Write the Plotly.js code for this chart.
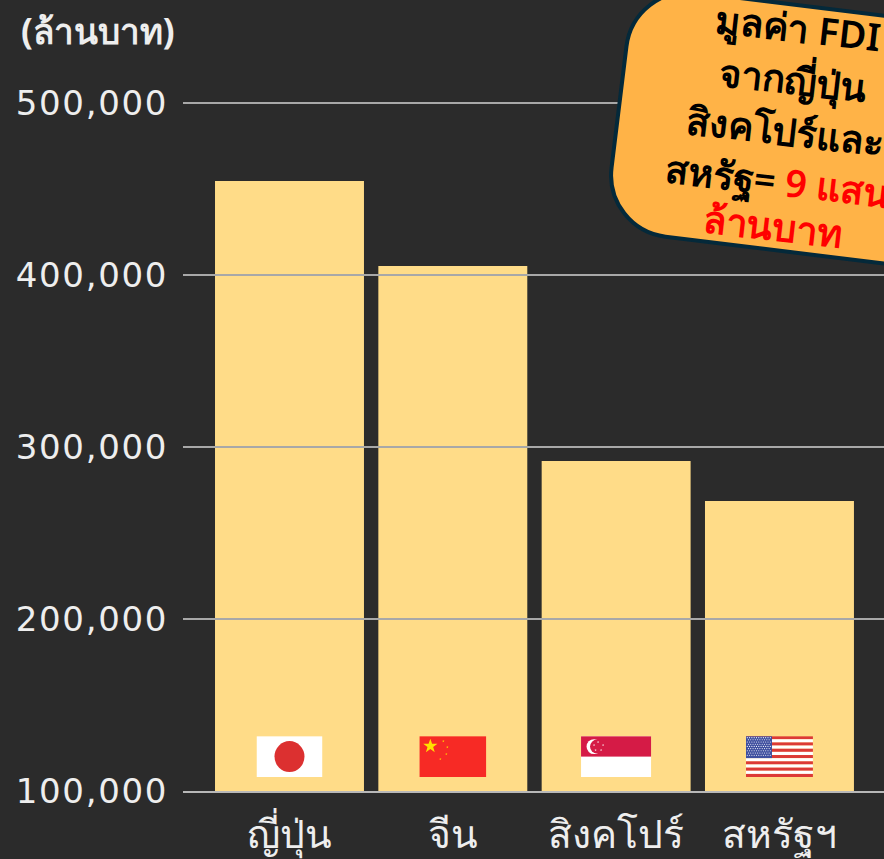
<!DOCTYPE html>
<html><head><meta charset="utf-8">
<script src="https://cdn.plot.ly/plotly-3.0.1.min.js"></script>
<style>html,body{margin:0;padding:0;background:#2b2b2b;overflow:hidden}#c{width:884px;height:859px}.ytick text{letter-spacing:1.7px}</style>
</head><body><div id="c"></div>
<script>
const categories = ['ญี่ปุ่น','จีน','สิงคโปร์','สหรัฐฯ'];
const values = [454600, 405200, 291800, 268600];
const tickValues = [100000,200000,300000,400000,500000];
const tickLabels = ['100,000','200,000','300,000','400,000','500,000'];
const unitLabel = '(ล้านบาท)';
const calloutLines = [
  {text:'มูลค่า FDI', cx:798, cy:27},
  {text:'จากญี่ปุ่น', cx:793, cy:79},
  {text:'สิงคโปร์และ', cx:785, cy:130},
  {text:'สหรัฐ= <span style="color:#ff0000">9 แสน</span>', cx:777, cy:180},
  {text:'<span style="color:#ff0000">ล้านบาท</span>', cx:773, cy:225}
];
const W=884,H=859,L=183,T=102,B=68;
const svg = s => 'data:image/svg+xml;charset=utf-8,'+encodeURIComponent(s);
const wrap = (w,h,b) => `<svg xmlns="http://www.w3.org/2000/svg" width="${w}" height="${h}" viewBox="0 0 ${w} ${h}" preserveAspectRatio="none">${b}</svg>`;
const star=(cx,cy,r,f)=>{let p=[];for(let i=0;i<10;i++){const a=-Math.PI/2+i*Math.PI/5,q=i%2?r*0.4:r;p.push((cx+q*Math.cos(a)).toFixed(2)+','+(cy+q*Math.sin(a)).toFixed(2));}return `<polygon points="${p.join(' ')}" fill="${f}"/>`;};
const flagJP = wrap(66,41,'<rect width="66" height="41" fill="#fff"/><ellipse cx="33" cy="20.5" rx="15" ry="15.5" fill="#dc3030"/>');
const flagCN = wrap(67,41,'<rect width="67" height="41" fill="#f72a25"/>'+star(11,10,7.5,'#ffe000')+star(24,5,1.3,'#ffd000')+star(28,11,1.3,'#ffd000')+star(27,18,1.3,'#ffd000')+star(21,23,1.3,'#ffd000'));
const flagSG = wrap(70,41,'<rect width="70" height="41" fill="#fff"/><rect width="70" height="20.5" fill="#d51b46"/><circle cx="13" cy="10.5" r="7.5" fill="#fff"/><circle cx="16" cy="10.5" r="7" fill="#d51b46"/>'+star(17,6,1.2,'#fff')+star(22,9,1.2,'#fff')+star(20,14,1.2,'#fff')+star(14.5,14,1.2,'#fff')+star(13,9,1.2,'#fff'));
let stripes='';for(let i=0;i<13;i++){stripes+=`<rect y="${i*41/13}" width="67" height="${41/13}" fill="${i%2?'#fff':'#dc3a36'}"/>`;}
let dots='';for(let r=0;r<9;r++){for(let c=0;c<(r%2?10:11);c++){dots+=`<circle cx="${1.3+c*2.3+(r%2?1.15:0)}" cy="${1.5+r*2.2}" r="0.55" fill="#fff"/>`;}}
const flagUS = wrap(67,41,stripes+'<rect width="26" height="22" fill="#3f4f9f"/>'+dots);
const flags=[flagJP,flagCN,flagSG,flagUS], flagW=[0.404,0.41,0.43,0.41];
const images = categories.map((c,i)=>({source:svg(flags[i]),xref:'x',yref:'y',x:c,y:120000,sizex:flagW[i],sizey:23800,xanchor:'center',yanchor:'middle',sizing:'stretch',layer:'above'}));
const px = x => (x-L)/(W-L), py = y => 1-(y-T)/(H-T-B);
function calloutPath(ox,oy,w,h,r,deg){
  const a=deg*Math.PI/180,c=Math.cos(a),s=Math.sin(a),k=r*0.448;
  const P=(u,v)=>{const x=ox+u*c-v*s,y=oy+u*s+v*c;return px(x).toFixed(5)+','+py(y).toFixed(5);};
  return `M${P(r,0)} L${P(w-r,0)} C${P(w-k,0)} ${P(w,k)} ${P(w,r)} L${P(w,h-r)} C${P(w,h-k)} ${P(w-k,h)} ${P(w-r,h)} L${P(r,h)} C${P(k,h)} ${P(0,h-k)} ${P(0,h-r)} L${P(0,r)} C${P(0,k)} ${P(k,0)} ${P(r,0)} Z`;
}
const thai='"Noto Sans","Noto Sans CJK SC",sans-serif';
const annotations = calloutLines.map(l=>({xref:'paper',yref:'paper',x:px(l.cx),y:py(l.cy),xanchor:'center',yanchor:'middle',text:l.text,showarrow:false,textangle:6.5,font:{family:thai,size:38,color:'#000',weight:600}}));
annotations.push({xref:'paper',yref:'paper',x:px(19),y:py(30),xanchor:'left',yanchor:'middle',text:unitLabel,showarrow:false,font:{family:thai,size:35,color:'#eeeeee',weight:700}});
const gridShapes = tickValues.slice(1).map(v=>({type:'line',xref:'paper',yref:'y',x0:0,x1:1,y0:v,y1:v,layer:'above',line:{color:'#a8a8a8',width:2}}));
const calloutShape = {type:'path',xref:'paper',yref:'paper',layer:'above',path:calloutPath(634,-15,400,246,62,7),fillcolor:'#ffb347',line:{color:'#04293a',width:4}};
Plotly.newPlot('c',[{type:'bar',x:categories,y:values,marker:{color:'#ffdc88',line:{width:0}},width:0.912,hoverinfo:'skip'}],{
  width:W,height:H,margin:{l:L,r:0,t:T,b:B,pad:0},paper_bgcolor:'#2b2b2b',plot_bgcolor:'#2b2b2b',showlegend:false,
  xaxis:{type:'category',categoryarray:categories,range:[-0.652,3.64],showgrid:false,showline:true,linecolor:'#b8b8b8',linewidth:2,ticks:'',ticklabelstandoff:8,tickfont:{family:thai,size:39,color:'#eeeeee'}},
  yaxis:{range:[100000,500581],tickvals:tickValues,ticktext:tickLabels,showgrid:false,zeroline:false,ticks:'outside',ticklen:7,tickcolor:'rgba(0,0,0,0)',tickfont:{family:'"DejaVu Sans",sans-serif',size:34,color:'#eeeeee'}},
  images,annotations,
  shapes:[...gridShapes,calloutShape]
},{displayModeBar:false,staticPlot:true});
</script></body></html>
